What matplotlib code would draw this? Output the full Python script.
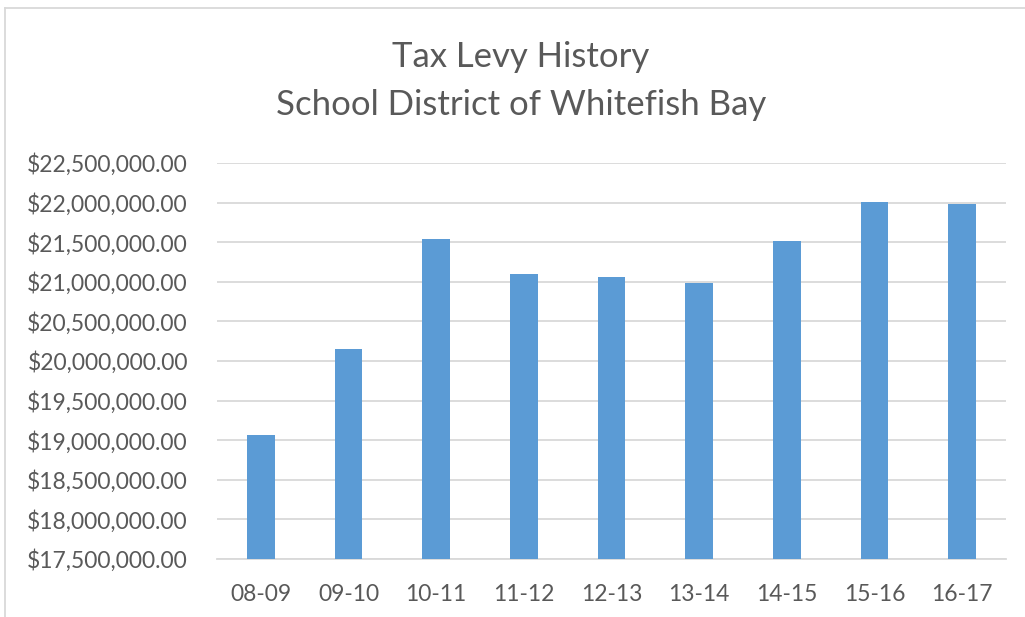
import matplotlib
matplotlib.use("Agg")
import matplotlib.pyplot as plt
from matplotlib.ticker import FuncFormatter, MultipleLocator
from matplotlib.lines import Line2D

years = ["08-09", "09-10", "10-11", "11-12", "12-13", "13-14", "14-15", "15-16", "16-17"]
levy = [19068000, 20148000, 21538000, 21097000, 21060000, 20980000, 21520000, 22010000, 21980000]

title_lines = ["Tax Levy History", "School District of Whitefish Bay"]

plt.rcParams['font.family'] = ['Lato', 'DejaVu Sans']
text_color = "#595959"
grid_color = "#D9D9D9"
bar_color = "#5B9BD5"

fig = plt.figure(figsize=(10.25, 6.17), dpi=100)
ax = fig.add_axes([217/1025, 1 - 559/617, (1006 - 217)/1025, (559 - 163)/617])

x = list(range(len(years)))
ax.bar(x, levy, width=0.316, color=bar_color, zorder=3)

ax.set_ylim(17500000, 22500000)
ax.set_xlim(-0.5, len(years) - 0.5)
ax.yaxis.set_major_locator(MultipleLocator(500000))
ax.yaxis.set_major_formatter(FuncFormatter(lambda v, p: "${:,.2f}".format(v)))
ax.set_xticks(x)
ax.set_xticklabels(years)
ax.grid(axis='y', color=grid_color, linewidth=1.3, zorder=0)
for s in ['top', 'right', 'left']:
    ax.spines[s].set_visible(False)
ax.spines['bottom'].set_color(grid_color)
ax.spines['bottom'].set_linewidth(1.3)
ax.tick_params(axis='both', length=0, colors=text_color, labelsize=16.5)
ax.tick_params(axis='y', pad=21)
ax.tick_params(axis='x', pad=18)

fig.text(0.508, 1 - 57/617, title_lines[0], ha='center', va='center', fontsize=25, color=text_color)
fig.text(0.508, 1 - 105/617, title_lines[1], ha='center', va='center', fontsize=25, color=text_color)

fig.add_artist(Line2D([5/1025, 1.0], [1 - 8/617, 1 - 8/617], transform=fig.transFigure, color=grid_color, linewidth=1.3))
fig.add_artist(Line2D([5/1025, 5/1025], [0, 1 - 8/617], transform=fig.transFigure, color=grid_color, linewidth=1.3))

fig.savefig("out.png", dpi=100)
